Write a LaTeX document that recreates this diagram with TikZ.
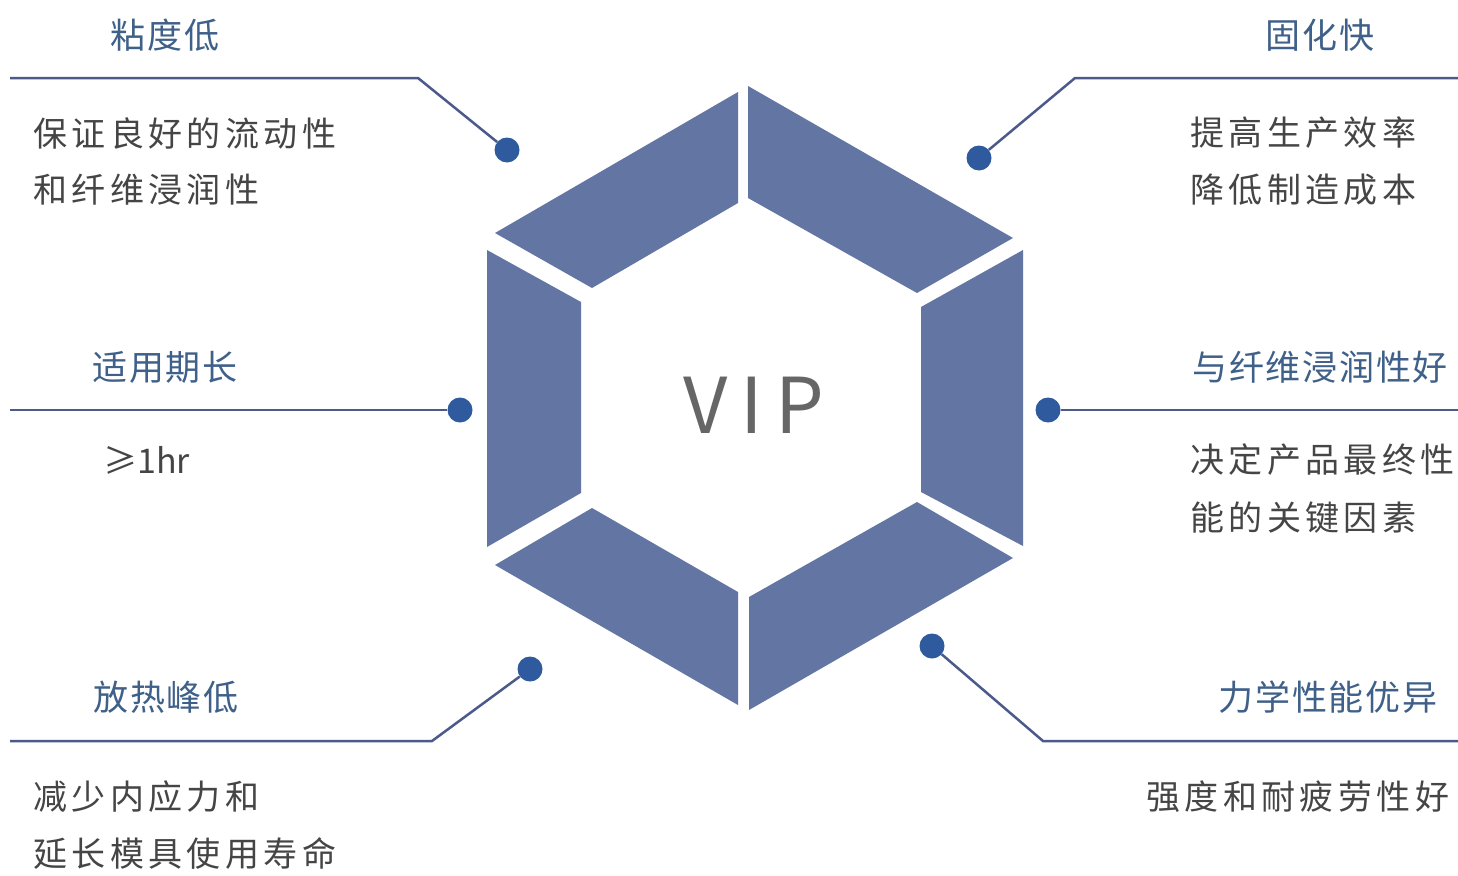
\documentclass[tikz,border=0pt]{standalone}
\usepackage{fontspec}
\newfontfamily\cjk{Noto Sans CJK SC}
\newfontfamily\cjkt[LetterSpace=5]{Noto Sans CJK SC}
\newfontfamily\cjkb[LetterSpace=13]{Noto Sans CJK SC}
\newfontfamily\vipf[LetterSpace=16]{Noto Sans CJK SC}
\definecolor{pc}{HTML}{6275A3}
\definecolor{dc}{HTML}{2F5B9E}
\definecolor{lc}{HTML}{4B5A8A}
\definecolor{tc}{HTML}{3F6089}
\definecolor{bc}{HTML}{454545}
\definecolor{vc}{HTML}{666666}
\begin{document}
\begin{tikzpicture}[x=1pt,y=-1pt,
  piece/.style={fill=pc},
  dotnode/.style={circle,fill=dc,inner sep=0pt,minimum size=25pt},
  conn/.style={draw=lc,line width=2.5pt},
  title/.style={text=tc,font=\cjkt\fontsize{35}{40}\selectfont,inner sep=0pt},
  body/.style={text=bc,font=\cjkb\fontsize{34}{40}\selectfont,inner sep=0pt,anchor=west}]
\useasboundingbox[fill=white] (0,0) rectangle (1458,875);

% hexagon pieces
\fill[piece] (495,233) -- (738,92) -- (738,203) -- (592,288) -- cycle;
\fill[piece] (748,86) -- (1013,238) -- (917,293) -- (748,198) -- cycle;
\fill[piece] (1023,250) -- (1023,546) -- (921,492) -- (921,307) -- cycle;
\fill[piece] (1013,558) -- (749,710) -- (749,597) -- (917,502) -- cycle;
\fill[piece] (495,565) -- (592,508) -- (738,592) -- (738,705) -- cycle;
\fill[piece] (487,250) -- (581,302) -- (581,493) -- (487,547) -- cycle;

\node[text=vc,font=\vipf\fontsize{77}{90}\selectfont,inner sep=0pt] (vip) at (754,405) {VIP};

% dots
\node[dotnode] (d1) at (507,150) {};
\node[dotnode] (d2) at (460,410) {};
\node[dotnode] (d3) at (530,669) {};
\node[dotnode] (d4) at (979,158) {};
\node[dotnode] (d5) at (1048,410) {};
\node[dotnode] (d6) at (932,646) {};

% connector points
\coordinate (e1) at (10,78);   \coordinate (c1) at (418,78);
\coordinate (e2) at (10,410);
\coordinate (e3) at (10,741);  \coordinate (c3) at (432,741);
\coordinate (e4) at (1458,78); \coordinate (c4) at (1075,78);
\coordinate (e5) at (1458,410);
\coordinate (e6) at (1458,741); \coordinate (c6) at (1043,741);

\draw[conn] (e1) -- (c1) -- (d1);
\draw[conn] (e2) -- (d2);
\draw[conn] (e3) -- (c3) -- (d3);
\draw[conn] (e4) -- (c4) -- (d4);
\draw[conn] (e5) -- (d5);
\draw[conn] (e6) -- (c6) -- (d6);

% titles
\node[title] (t1) at (165,35) {粘度低};
\node[title] (t2) at (165,367) {适用期长};
\node[title] (t3) at (166,697) {放热峰低};
\node[title] (t4) at (1320,35) {固化快};
\node[title] (t5) at (1320,367) {与纤维浸润性好};
\node[title] (t6) at (1328,697) {力学性能优异};

% bodies
\node[body] (b1a) at (33,133) {保证良好的流动性};
\node[body] (b1b) at (33,190) {和纤维浸润性};
\node[body,font=\cjk\fontsize{34}{40}\selectfont] (b2) at (103,460) {≥1hr};
\node[body] (b3a) at (33,797) {减少内应力和};
\node[body] (b3b) at (33,853) {延长模具使用寿命};
\node[body] (b4a) at (1190,133) {提高生产效率};
\node[body] (b4b) at (1190,190) {降低制造成本};
\node[body] (b5a) at (1190,460) {决定产品最终性};
\node[body] (b5b) at (1190,518) {能的关键因素};
\node[body] (b6) at (1146,797) {强度和耐疲劳性好};
\end{tikzpicture}
\end{document}
